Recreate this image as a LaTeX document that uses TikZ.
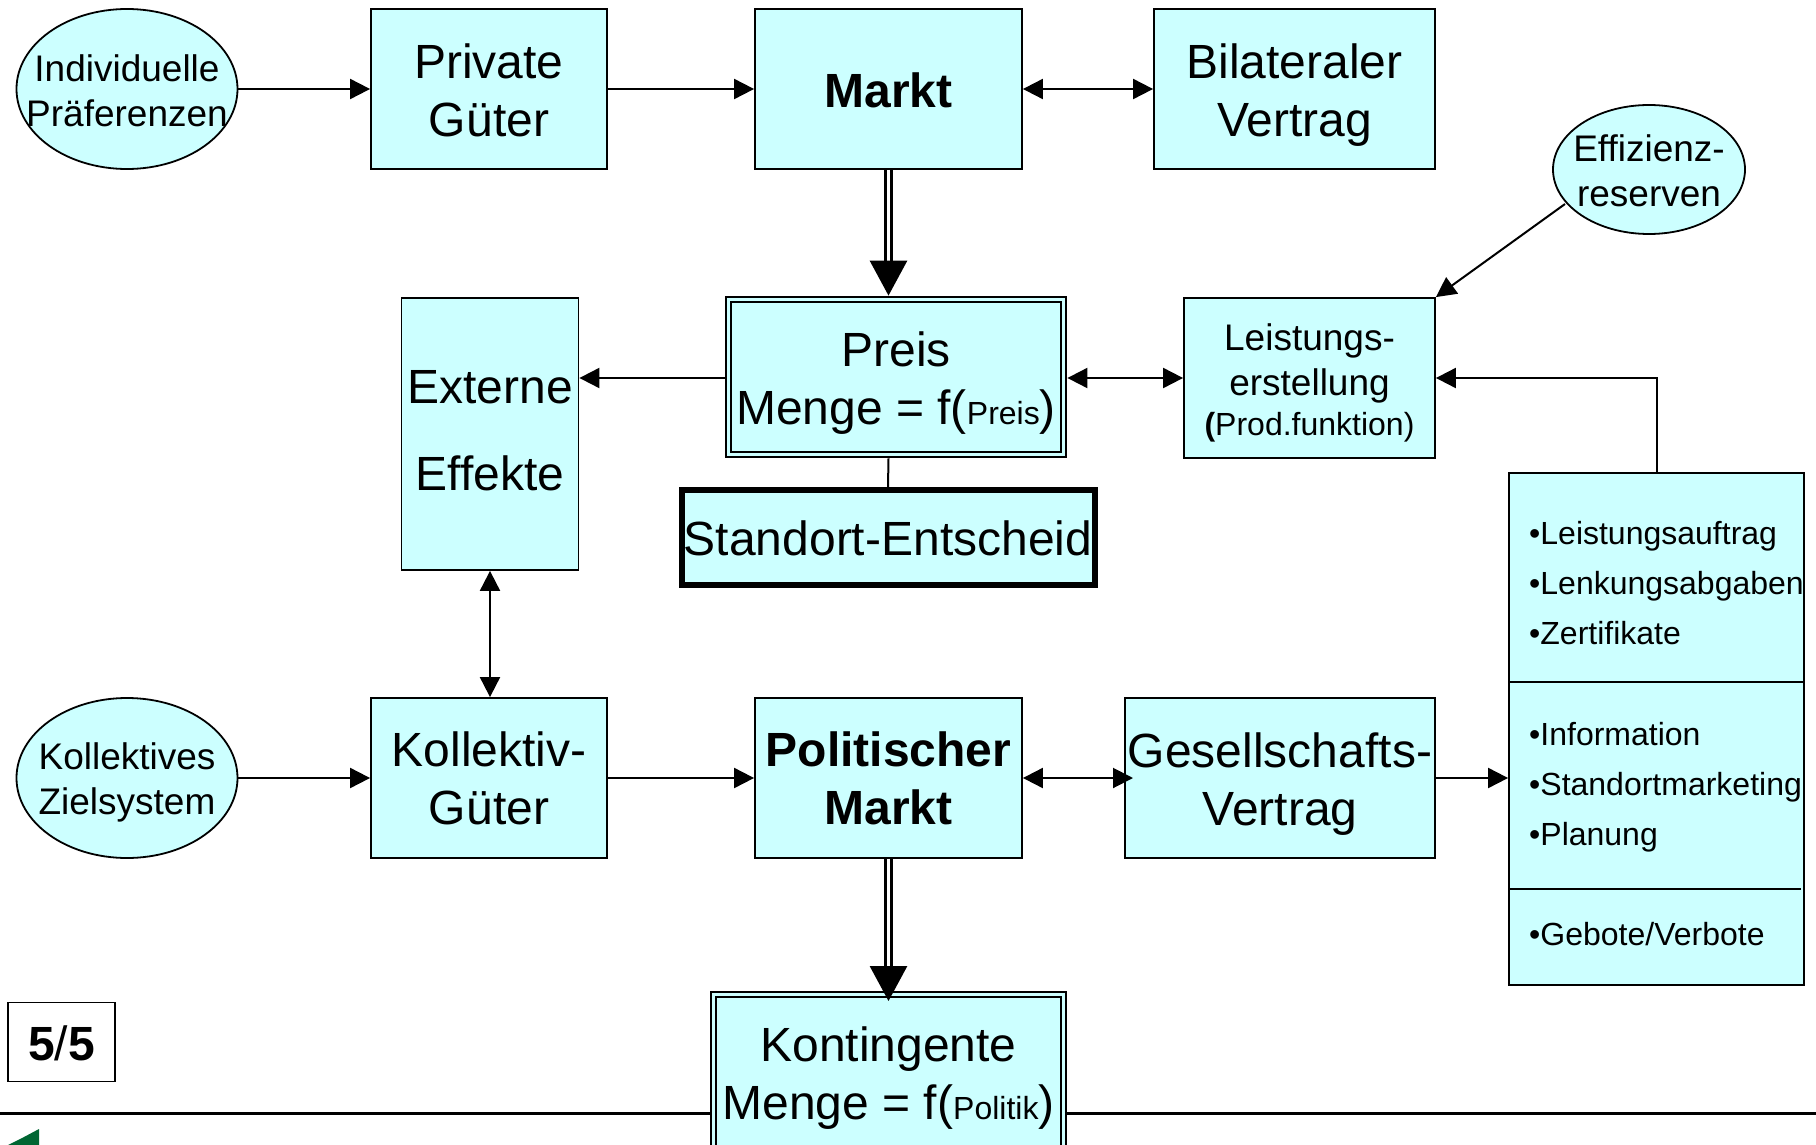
\documentclass[tikz,border=0pt]{standalone}
\usepackage{fontspec}
\setmainfont{Liberation Sans}
\usetikzlibrary{arrows.meta,shapes.geometric}
\definecolor{boxcyan}{HTML}{CCFFFF}
\definecolor{lineblack}{HTML}{000000}
\definecolor{logogreen}{HTML}{006633}
\newcommand{\fbig}{\fontsize{48}{58}\selectfont}
\newcommand{\fmid}{\fontsize{37}{45}\selectfont}
\newcommand{\fsmall}{\fontsize{32}{32}\selectfont}
\newcommand{\tall}[1]{\rule{0pt}{#1pt}}
\newcommand{\deep}[1]{\rule[-#1pt]{0pt}{#1pt}}
\tikzset{
  x=1pt,y=-1pt,
  base/.style={draw=lineblack,line width=1.8pt,fill=boxcyan,align=center,inner sep=0pt,text=black},
  bigbox/.style 2 args={base,rectangle,minimum width=#1,minimum height=#2,font=\fbig},
  midbox/.style 2 args={base,rectangle,minimum width=#1,minimum height=#2,font=\fmid},
  oval/.style 2 args={base,ellipse,inner xsep=-30pt,inner ysep=-20pt,minimum width=#1,minimum height=#2,font=\fmid},
  dblbox/.style 2 args={bigbox={#1}{#2},line width=2.6pt,double=boxcyan,double distance=2.6pt,outer sep=3.9pt},
  thickbox/.style 2 args={bigbox={#1}{#2},line width=6pt},
  listitem/.style={anchor=base west,inner sep=0pt,font=\fsmall},
  conn/.style={draw=lineblack,line width=2pt},
  one/.style={conn,-{Triangle[length=20pt,width=20pt]}},
  two/.style={conn,{Triangle[length=20pt,width=20pt]}-{Triangle[length=20pt,width=20pt]}},
  heavy/.style={draw=lineblack,line width=3pt,double=white,double distance=2.5pt,-{Triangle[length=35pt,width=37pt]}},
}
\begin{document}
\begin{tikzpicture}
\useasboundingbox (0,0) rectangle (1816,1145);
\clip (0,0) rectangle (1816,1145);
% footer
\coordinate (footL) at (0,1113);
\coordinate (footR) at (1816,1113);
\draw[draw=lineblack,line width=3pt] (footL) -- (footR);
\fill[logogreen] (8,1145) -- (24,1137) -- (39,1129) -- (39,1145) -- cycle;
\node[draw=lineblack,line width=1.8pt,rectangle,minimum width=107,minimum height=79,inner sep=0pt,font=\fbig] (page) at (61.5,1042) {\tall{37.4}\textbf{5}/\textbf{5}};
% top row
\node[oval={221}{160}] (ind) at (127,89) {\tall{29.4}Individuelle\\Präferenzen};
\node[bigbox={236}{160}] (priv) at (489,89) {\tall{37.4}Private\\Güter};
\node[bigbox={267}{160},font=\fbig\bfseries] (markt) at (888.5,89) {\tall{37.4}Markt};
\node[bigbox={281}{160}] (bil) at (1294.5,89) {\tall{46.6}Bilateraler\\Vertrag};
\node[oval={192}{129}] (eff) at (1649,169.5) {\tall{29.4}Effizienz-\\reserven};
% middle row
\node[bigbox={177}{272},font=\fontsize{48}{87}\selectfont] (ext) at (490,434) {Externe\\Effekte\deep{7}};
\node[dblbox={335}{155}] (preis) at (896,377) {\tall{47}Preis\\Menge = f({\fsmall Preis})};
\node[midbox={251}{160}] (leist) at (1309.5,378) {\tall{36.2}Leistungs-\\erstellung\\[-5pt]{\fontsize{32}{38}\selectfont\textbf{(}Prod.funktion)}};
\node[thickbox={413}{95}] (stand) at (888,537.5) {\tall{37.4}Standort-Entscheid};
% bottom row
\node[oval={221}{160}] (koll) at (127,778) {\tall{36.2}Kollektives\\Zielsystem};
\node[bigbox={236}{160}] (kgut) at (489,778) {Kollektiv-\\Güter};
\node[bigbox={267}{160},font=\fbig\bfseries] (pol) at (888.5,778) {Politischer\\Markt};
\node[bigbox={310}{160}] (ges) at (1280,778) {\tall{46.6}Gesellschafts-\\Vertrag};
\node[dblbox={350}{168}] (kont) at (888.5,1078.5) {Kontingente\\Menge = f({\fsmall Politik})};
% list box
\node[base,rectangle,minimum width=295,minimum height=512] (rb) at (1656.5,729) {};
\coordinate (d1) at (1509,682);
\coordinate (d1e) at (1804,682);
\coordinate (d2) at (1509,889);
\coordinate (d2e) at (1801,889);
\draw[conn] (d1) -- (d1e);
\draw[conn] (d2) -- (d2e);
\node[listitem] (l1) at (1529,544.5) {•Leistungsauftrag};
\node[listitem] (l2) at (1529,594.5) {•Lenkungsabgaben};
\node[listitem] (l3) at (1529,644.5) {•Zertifikate};
\node[listitem] (l4) at (1529,745) {•Information};
\node[listitem] (l5) at (1529,795) {•Standortmarketing};
\node[listitem] (l6) at (1529,845) {•Planung};
\node[listitem] (l7) at (1529,945) {•Gebote/Verbote};
% connectors
\draw[one] (ind) -- (priv);
\draw[one] (priv) -- (markt);
\draw[two] (markt) -- (bil);
\draw[heavy] (markt.south) -- (markt.south |- preis.north);
\coordinate (effout) at (1565,204);
\draw[one] (effout) -- (leist.north east);
\draw[one] (preis.west |- leist.west) -- (ext.east |- leist.west);
\draw[two] (preis.east |- leist.west) -- (leist.west);
\draw[conn] (markt.south |- preis.south) -- (stand.north);
\draw[two] (ext.south) -- (ext.south |- kgut.north);
\draw[one] (koll) -- (kgut);
\draw[one] (kgut) -- (pol);
\coordinate (gesIn) at (1133,778);
\draw[two] (pol) -- (gesIn);
\draw[one] (ges.east) -- (rb.west |- ges.east);
\coordinate (kontIn) at (888.5,1001);
\draw[heavy] (pol.south) -- (kontIn);
\draw[one] (rb.north) |- (leist.east);
\end{tikzpicture}
\end{document}
